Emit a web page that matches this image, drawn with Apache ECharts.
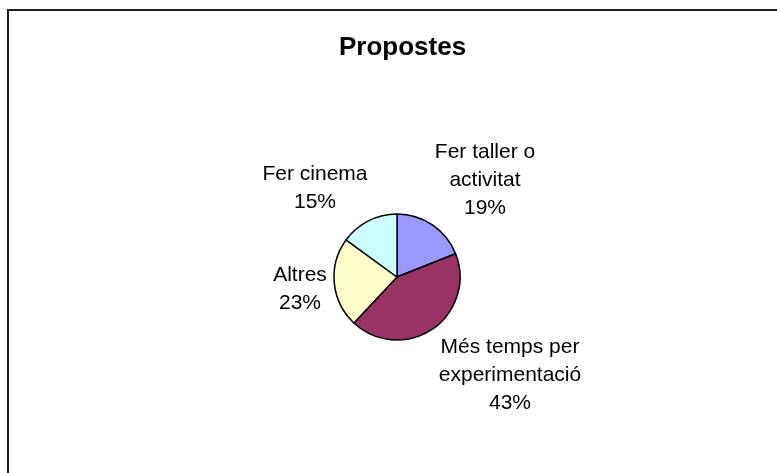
<!DOCTYPE html>
<html>
<head>
<meta charset="utf-8">
<script src="https://cdn.jsdelivr.net/npm/echarts@6/dist/echarts.min.js"></script>
<style>
  html, body { margin: 0; padding: 0; background: #fff; }
  #main { width: 777px; height: 473px; }
</style>
</head>
<body>
<div id="main"></div>
<script>
// dades del gràfic
var categories = ['Fer taller o\nactivitat', 'Més temps per\nexperimentació', 'Altres', 'Fer cinema'];
var values = [19, 43, 23, 15];
var colors = ['#9999FF', '#993366', '#FFFFCC', '#CCFFFF'];

// on van les etiquetes (desplaçament respecte al centre del pastís)
var labelOffsets = [[88, -97], [113, 98], [-97, 12], [-82, -89]];
var cx = 397, cy = 277;

var chart = echarts.init(document.getElementById('main'));

var option = {
    backgroundColor: '#fff',
    animation: false,
    title: {
        text: 'Propostes',
        left: 334,
        top: 30,
        textStyle: { fontFamily: 'Liberation Sans', fontSize: 26, fontWeight: 'bold', color: '#000' }
    },
    graphic: [{
        type: 'rect',
        shape: { x: 8, y: 10, width: 800, height: 500 },
        style: { fill: 'none', stroke: '#222', lineWidth: 2 }
    }],
    series: [{
        type: 'pie',
        center: [cx, cy],
        radius: 63,
        startAngle: 90,
        clockwise: true,
        data: categories.map(function (c, i) {
            return { name: c, value: values[i], itemStyle: { color: colors[i] } };
        }),
        itemStyle: { borderColor: '#000', borderWidth: 1.5 },
        label: {
            show: true,
            position: 'outside',
            formatter: '{b}\n{d}%',
            fontFamily: 'Liberation Sans',
            fontSize: 21,
            lineHeight: 28,
            color: '#000'
        },
        labelLine: { show: false },
        labelLayout: function (p) {
            var o = labelOffsets[p.dataIndex];
            return { x: cx + o[0], y: cy + o[1], align: 'center', verticalAlign: 'middle' };
        }
    }]
};

chart.setOption(option);
</script>
</body>
</html>
